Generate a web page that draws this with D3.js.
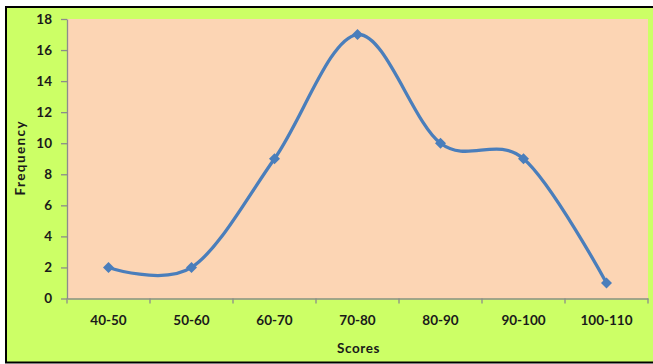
<!DOCTYPE html>
<html>
<head>
<meta charset="utf-8">
<script src="https://cdn.jsdelivr.net/npm/d3@7"></script>
<style>
  html, body { margin: 0; padding: 0; background: #ffffff; }
  svg { display: block; }
  text { font-family: Lato, "Open Sans", "Liberation Sans", sans-serif; fill: #1a1a1a; }
</style>
</head>
<body>
<svg id="chart" width="653" height="364"></svg>
<script>
// Score bands and how many students fell into each one
const categories = ["40-50", "50-60", "60-70", "70-80", "80-90", "90-100", "100-110"];
const frequency = [2, 2, 9, 17, 10, 9, 1];
const yTicks = [0, 2, 4, 6, 8, 10, 12, 14, 16, 18];

const svg = d3.select("#chart");
const W = 653, H = 364;

// chart frame: green background with a black border
svg.append("rect")
  .attr("x", 6).attr("y", 7)
  .attr("width", W + 10).attr("height", H - 8.5)
  .attr("fill", "#ccff66")
  .attr("stroke", "#000").attr("stroke-width", 2);

const plot = { left: 67, top: 19, right: 648, bottom: 298.5 };

const x = d3.scaleBand().domain(categories).range([plot.left, plot.right]);
const y = d3.scaleLinear().domain([0, 18]).range([plot.bottom, plot.top]);

// plot area
svg.append("rect")
  .attr("x", plot.left).attr("y", plot.top)
  .attr("width", plot.right - plot.left).attr("height", plot.bottom - plot.top)
  .attr("fill", "#fcd5b4");

// y axis
const yAxis = svg.append("g")
  .attr("transform", `translate(${plot.left},0)`)
  .call(d3.axisLeft(y).tickValues(yTicks).tickSize(6).tickSizeOuter(0).tickPadding(9));
yAxis.select(".domain").attr("stroke", "#8c8c8c").attr("stroke-width", 1.3);
yAxis.selectAll(".tick line").attr("stroke", "#8c8c8c").attr("stroke-width", 1.3);
yAxis.selectAll(".tick text")
  .style("font-size", "13.5px").style("font-weight", "bold").attr("fill", "#1a1a1a");

// x axis: ticks sit on band boundaries
const xAxis = svg.append("g")
  .attr("transform", `translate(0,${plot.bottom})`)
  .call(d3.axisBottom(x).tickSize(0).tickPadding(17));
xAxis.select(".domain").attr("stroke", "#8c8c8c").attr("stroke-width", 1.3);
xAxis.selectAll(".tick text")
  .style("font-size", "13.5px").style("font-weight", "bold").attr("fill", "#1a1a1a");
const bounds = categories.map(c => x(c)).concat([x(categories[categories.length - 1]) + x.bandwidth()]);
xAxis.selectAll(".bound")
  .data(bounds)
  .join("line")
  .attr("class", "bound")
  .attr("x1", d => d).attr("x2", d => d)
  .attr("y1", 0).attr("y2", 5)
  .attr("stroke", "#8c8c8c").attr("stroke-width", 1.3);

// axis titles
svg.append("text")
  .attr("x", (plot.left + plot.right) / 2 + 1).attr("y", 353)
  .attr("text-anchor", "middle")
  .style("font-size", "13.5px").style("font-weight", "bold")
  .style("letter-spacing", "0.6px")
  .text("Scores");

svg.append("text")
  .attr("transform", `translate(25,${(plot.top + plot.bottom) / 2 - 1}) rotate(-90)`)
  .attr("text-anchor", "middle")
  .style("font-size", "13.5px").style("font-weight", "bold")
  .style("letter-spacing", "1.4px")
  .text("Frequency");

// smoothed frequency line
const pts = categories.map((c, i) => [x(c) + x.bandwidth() / 2, y(frequency[i])]);
const line = d3.line().curve(d3.curveCardinal.tension(0));

svg.append("path")
  .attr("d", line(pts))
  .attr("fill", "none")
  .attr("stroke", "#4a7ebb")
  .attr("stroke-width", 3.3)
  .attr("stroke-linecap", "round");

// diamond markers
svg.selectAll(".marker")
  .data(pts)
  .join("path")
  .attr("class", "marker")
  .attr("transform", d => `translate(${d[0]},${d[1]})`)
  .attr("d", "M0,-5.5L5.5,0L0,5.5L-5.5,0Z")
  .attr("fill", "#4a7ebb");
</script>
</body>
</html>
